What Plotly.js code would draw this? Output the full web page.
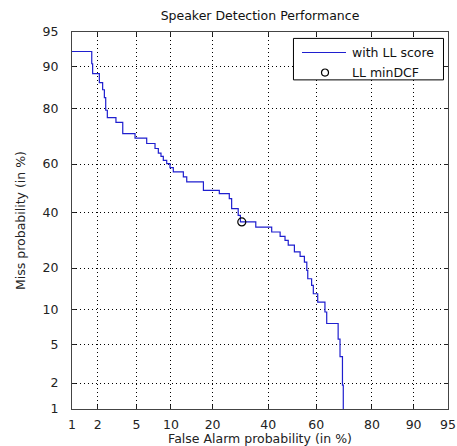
<!DOCTYPE html>
<html>
<head>
<meta charset="utf-8">
<script src="https://cdn.plot.ly/plotly-3.0.1.min.js"></script>
<style>
  html, body { margin: 0; padding: 0; background: #fff; }
  #chart { width: 457px; height: 446px; }
</style>
</head>
<body>
<div id="chart"></div>
<script>
// DET curve: false alarm vs miss probability (percent), plotted on normal-deviate axes.
// Each point starts a horizontal run of the staircase (line.shape = 'hv').
const pfaPct = [0.5, 1.71, 1.75, 2.08, 2.26, 2.36, 2.44, 2.54, 3.13, 3.67,
                4.84, 6.21, 7.36, 7.86, 8.28, 8.66, 9.24, 9.83, 10.45, 12.5,
                13.25, 17.4, 22.05, 25.3, 26.1, 28.4, 29.2, 35.0, 41.4, 44.9,
                46.95, 48.3, 50.9, 53.3, 55.1, 56.1, 56.5, 58.1, 58.8, 60.6,
                63.5, 64.2, 68.6, 69.3, 70.2, 70.5];
const pmissPct = [92.5, 90.5, 88.6, 86.7, 85.0, 83.0, 79.4, 77.1, 75.6, 71.7,
                  70.1, 68.1, 66.2, 64.4, 63.1, 61.5, 60.2, 58.6, 56.8, 54.7,
                  52.6, 49.1, 47.7, 45.6, 41.5, 38.7, 36.1, 34.1, 32.2, 30.6,
                  29.1, 27.4, 25.1, 23.6, 21.8, 19.3, 17.0, 15.3, 13.3, 11.5,
                  9.6, 7.7, 5.6, 3.8, 1.9, 0.5];

// Operating point of the minimum detection cost
const minDcfPfa = [29.7];
const minDcfPmiss = [36.1];

// Tick labels shared by both axes (percent)
const tickPct = [1, 2, 5, 10, 20, 40, 60, 80, 90, 95];
const axisMinPct = 1, axisMaxPct = 95;

// Legend entries
const seriesNames = ['with LL score', 'LL minDCF'];

// Inverse standard normal CDF (Acklam's rational approximation)
function norminv(p) {
  const a = [-3.969683028665376e+01, 2.209460984245205e+02, -2.759285104469687e+02,
             1.383577518672690e+02, -3.066479806614716e+01, 2.506628277459239e+00];
  const b = [-5.447609879822406e+01, 1.615858368580409e+02, -1.556989798598866e+02,
             6.680131188771972e+01, -1.328068155288572e+01];
  const c = [-7.784894002430293e-03, -3.223964580411365e-01, -2.400758277161838e+00,
             -2.549732539343734e+00, 4.374664141464968e+00, 2.938163982698783e+00];
  const d = [7.784695709041462e-03, 3.224671290700398e-01, 2.445134137142996e+00,
             3.754408661907416e+00];
  const pl = 0.02425, ph = 1 - pl;
  let q, r;
  if (p < pl) {
    q = Math.sqrt(-2 * Math.log(p));
    return (((((c[0]*q + c[1])*q + c[2])*q + c[3])*q + c[4])*q + c[5]) /
           ((((d[0]*q + d[1])*q + d[2])*q + d[3])*q + 1);
  }
  if (p <= ph) {
    q = p - 0.5; r = q * q;
    return (((((a[0]*r + a[1])*r + a[2])*r + a[3])*r + a[4])*r + a[5]) * q /
           (((((b[0]*r + b[1])*r + b[2])*r + b[3])*r + b[4])*r + 1);
  }
  q = Math.sqrt(-2 * Math.log(1 - p));
  return -(((((c[0]*q + c[1])*q + c[2])*q + c[3])*q + c[4])*q + c[5]) /
          ((((d[0]*q + d[1])*q + d[2])*q + d[3])*q + 1);
}
const probit = pct => norminv(pct / 100);

const FONT = 'DejaVu Sans, Liberation Sans, Arial, sans-serif';
const FS = 12.5;
const LINE_COLOR = '#1f1fcf';

const traces = [
  {
    type: 'scatter', mode: 'lines', name: seriesNames[0],
    x: pfaPct.map(probit), y: pmissPct.map(probit),
    line: { color: LINE_COLOR, width: 1.2, shape: 'hv' },
    hoverinfo: 'skip'
  },
  {
    type: 'scatter', mode: 'markers', name: seriesNames[1],
    x: minDcfPfa.map(probit), y: minDcfPmiss.map(probit),
    marker: { symbol: 'circle-open', size: 8, color: '#000', line: { width: 1.2, color: '#000' } },
    hoverinfo: 'skip'
  }
];

const range = [probit(axisMinPct) - 1e-6, probit(axisMaxPct) + 1e-6];

const axisCommon = {
  range: range,
  tickmode: 'array',
  tickvals: tickPct.map(probit),
  ticktext: tickPct.map(String),
  showgrid: true,
  gridcolor: '#000',
  gridwidth: 1,
  griddash: '1px,3px',
  zeroline: false,
  showline: true,
  linecolor: '#444',
  linewidth: 1,
  mirror: 'ticks',
  ticks: 'inside',
  ticklen: 4,
  tickcolor: '#222',
  tickfont: { family: FONT, size: FS, color: '#222' }
};

// Compact boxed legend in the upper-right corner (paper coordinates)
const legendBox = { x0: 0.589, x1: 0.988, y0: 0.873, y1: 0.983 };
const legendRows = [0.9456, 0.8925];
const legendShapes = [
  { type: 'rect', xref: 'paper', yref: 'paper',
    x0: legendBox.x0, x1: legendBox.x1, y0: legendBox.y0, y1: legendBox.y1,
    fillcolor: '#fff', line: { color: '#000', width: 1 }, layer: 'above' },
  { type: 'line', xref: 'paper', yref: 'paper',
    x0: 0.6117, x1: 0.7287, y0: legendRows[0], y1: legendRows[0],
    line: { color: LINE_COLOR, width: 1.2 }, layer: 'above' },
  { type: 'circle', xref: 'paper', yref: 'paper',
    x0: 0.6636, x1: 0.6822, y0: legendRows[1] - 0.0093, y1: legendRows[1] + 0.0093,
    line: { color: '#000', width: 1.2 }, layer: 'above' }
];
const legendLabels = seriesNames.map((name, i) => ({
  text: name, xref: 'paper', yref: 'paper',
  x: 0.7394, y: legendRows[i], xanchor: 'left', yanchor: 'middle',
  showarrow: false, font: { family: FONT, size: FS, color: '#111' }
}));

const layout = {
  width: 457, height: 446,
  margin: { l: 72, r: 9, t: 32, b: 37 },
  paper_bgcolor: '#fff',
  plot_bgcolor: '#fff',
  font: { family: FONT, size: FS, color: '#222' },
  title: {
    text: 'Speaker Detection Performance',
    font: { family: FONT, size: FS, color: '#111' },
    x: 0.5, xref: 'paper', xanchor: 'center',
    y: 1, yref: 'container', yanchor: 'top', pad: { t: 11 }
  },
  xaxis: Object.assign({}, axisCommon, {
    ticklabelstandoff: 4,
    title: { text: 'False Alarm probability (in %)', font: { family: FONT, size: FS, color: '#222' }, standoff: 2 }
  }),
  yaxis: Object.assign({}, axisCommon, {
    ticklabelstandoff: 10,
    title: { text: 'Miss probability (in %)', font: { family: FONT, size: FS, color: '#222' }, standoff: 14 }
  }),
  showlegend: false,
  shapes: legendShapes,
  annotations: legendLabels
};

Plotly.newPlot('chart', traces, layout, { staticPlot: true, displayModeBar: false });
</script>
</body>
</html>
